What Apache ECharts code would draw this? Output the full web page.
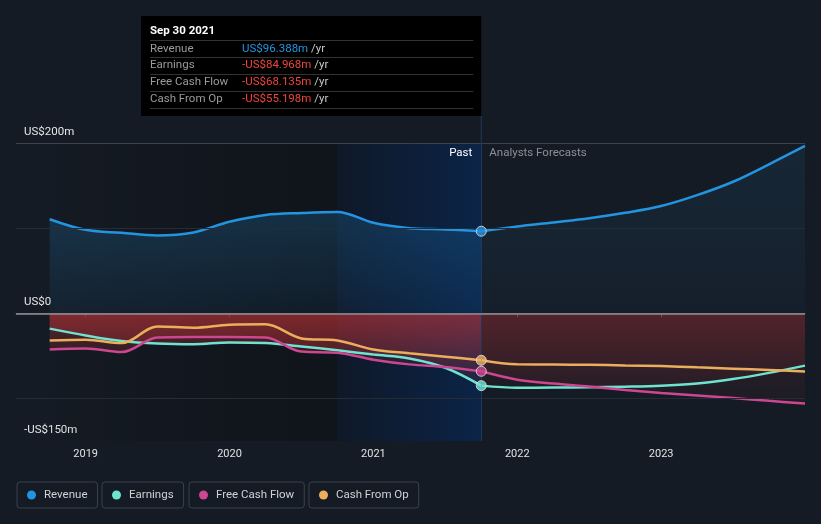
<!DOCTYPE html>
<html><head><meta charset="utf-8">
<script src="https://cdn.jsdelivr.net/npm/echarts@6/dist/echarts.min.js"></script>
<style>html,body{margin:0;padding:0;background:#151b24;}#c{width:821px;height:524px;}</style>
</head><body><div id="c"></div>
<script>
// ---- data ----
const pastYears = [2018.75, 2019.0, 2019.25, 2019.5, 2019.75, 2020.0, 2020.25, 2020.5, 2020.75, 2021.0, 2021.25, 2021.5, 2021.75];
const forecastYears = [2021.75, 2022.0, 2022.25, 2022.5, 2022.75, 2023.0, 2023.25, 2023.5, 2023.75, 2024.0];

const revenuePast = [110.5, 98, 94.5, 91.5, 95, 107.5, 115.5, 117.8, 119, 106.3, 100, 98.5, 96.388];
const earningsPast = [-18, -26, -32.5, -35.5, -36.3, -34.2, -34.8, -39, -43.5, -48.5, -53, -64, -84.968];
const fcfPast = [-42.5, -41.3, -45.5, -28.5, -27.8, -27.8, -28.5, -45, -46.3, -54.5, -60, -63, -68.135];
const cfoPast = [-32, -31, -35, -15.5, -17, -13.5, -13, -29.5, -32, -42.5, -47, -51, -55.198];

const revenueForecast = [96.388, 102, 106.7, 111.6, 118, 126, 138.8, 154.5, 175, 196.5];
const earningsForecast = [-84.968, -87.5, -87.3, -87, -86.2, -85, -82.6, -77.3, -70, -61.5];
const fcfForecast = [-68.135, -78, -82.5, -86, -90, -93.5, -96.5, -99.5, -102.8, -106];
const cfoForecast = [-55.198, -60, -60.2, -60.5, -61.2, -62, -63.5, -65, -66.6, -68.3];

const xTickValues = [2019, 2020, 2021, 2022, 2023];
const yTickValues = [200, 0, -150];
const yTickLabels = ['US$200m', 'US$0', '-US$150m'];
const gridValues = [200, 100, -100];
const seriesNames = ['Revenue', 'Earnings', 'Free Cash Flow', 'Cash From Op'];
const tooltipDate = 'Sep 30 2021';
const pastEnd = 2021.75;
const highlightStart = 2020.75;

// ---- styles ----
const colors = { 'Revenue': '#2394df', 'Earnings': '#6fe3cf', 'Free Cash Flow': '#cc4690', 'Cash From Op': '#ebae5c' };
const FONT = 'Roboto, "Noto Sans", sans-serif';

function pts(yrs, vals) { return yrs.map((x, i) => [x, vals[i]]); }
function vgrad(top, bottom) {
  return { type: 'linear', x: 0, y: 0, x2: 0, y2: 1, colorStops: [{ offset: 0, color: top }, { offset: 1, color: bottom }] };
}
function lineSeries(name, data, opts) {
  const s = {
    name, type: 'line', data, smooth: 0.35, z: opts.z || 3,
    symbol: 'none',
    lineStyle: { color: colors[name], width: 2.5 },
    itemStyle: { color: colors[name] },
    emphasis: { disabled: true },
    silent: true
  };
  if (opts.area) s.areaStyle = { color: opts.area, origin: 0 };
  return s;
}
function markerSeries(name, value) {
  return {
    name, type: 'scatter', data: [[pastEnd, value]], z: 12, symbol: 'circle', symbolSize: 10,
    itemStyle: { color: colors[name], borderColor: '#e6e6e6', borderWidth: 1 },
    emphasis: { disabled: true }, silent: true
  };
}

const chart = echarts.init(document.getElementById('c'), null, { renderer: 'canvas' });

const bgSeries = {
  name: '_bg', type: 'line', data: [[2018.75, 0]], symbol: 'none', lineStyle: { opacity: 0 }, z: 1, silent: true,
  markArea: {
    silent: true,
    data: [
      [{ xAxis: pastYears[0], itemStyle: { color: { type: 'linear', x: 0, y: 0, x2: 1, y2: 0, colorStops: [{ offset: 0, color: 'rgba(0,0,0,0.03)' }, { offset: 1, color: 'rgba(0,0,0,0.25)' }] } } }, { xAxis: highlightStart }],
      [{ xAxis: highlightStart, itemStyle: { color: { type: 'linear', x: 0, y: 0, x2: 1, y2: 0, colorStops: [{ offset: 0, color: '#0f1828' }, { offset: 1, color: '#0b2447' }] } } }, { xAxis: pastEnd }]
    ]
  },
  markLine: {
    silent: true, symbol: 'none', label: { show: false },
    data: gridValues.map(v => ({ yAxis: v, lineStyle: { color: v === 200 ? '#3d424a' : '#262c35', width: 1, type: 'solid' } }))
      .concat([
        { xAxis: pastEnd, lineStyle: { color: '#21375a', width: 1, type: 'solid' } }
      ])
  }
};

const zeroSeries = {
  name: '_zero', type: 'line', data: [[2018.75, 0]], symbol: 'none', lineStyle: { opacity: 0 }, z: 6, silent: true,
  markLine: { silent: true, symbol: 'none', label: { show: false }, data: [{ yAxis: 0, lineStyle: { color: '#8d9197', width: 1.5, type: 'solid' } }] }
};

const series = [
  bgSeries,
  lineSeries('Revenue', pts(forecastYears, revenueForecast), { area: vgrad('rgba(35,148,223,0.14)', 'rgba(35,148,223,0.05)'), z: 3 }),
  lineSeries('Earnings', pts(forecastYears, earningsForecast), { area: vgrad('rgba(200,50,55,0.27)', 'rgba(200,50,55,0.05)'), z: 3 }),
  lineSeries('Free Cash Flow', pts(forecastYears, fcfForecast), { area: vgrad('rgba(200,50,55,0.27)', 'rgba(200,50,55,0.05)'), z: 3 }),
  lineSeries('Cash From Op', pts(forecastYears, cfoForecast), { z: 3 }),
  lineSeries('Revenue', pts(pastYears, revenuePast), { area: vgrad('rgba(35,148,223,0.30)', 'rgba(35,148,223,0.09)'), z: 4 }),
  lineSeries('Earnings', pts(pastYears, earningsPast), { area: vgrad('rgba(215,55,58,0.47)', 'rgba(215,55,58,0.12)'), z: 4 }),
  lineSeries('Free Cash Flow', pts(pastYears, fcfPast), { area: vgrad('rgba(215,55,58,0.47)', 'rgba(215,55,58,0.12)'), z: 4 }),
  lineSeries('Cash From Op', pts(pastYears, cfoPast), { z: 5 }),
  zeroSeries,
  markerSeries('Revenue', revenuePast[revenuePast.length - 1]),
  markerSeries('Earnings', earningsPast[earningsPast.length - 1]),
  markerSeries('Free Cash Flow', fcfPast[fcfPast.length - 1]),
  markerSeries('Cash From Op', cfoPast[cfoPast.length - 1])
];

const legendLefts = [17, 102, 189, 309];
const legends = seriesNames.map((n, i) => ({
  data: [{ name: n, icon: 'circle', itemStyle: { color: colors[n], borderWidth: 0 } }],
  left: legendLefts[i], top: 482,
  orient: 'horizontal',
  icon: 'circle', itemWidth: 9, itemHeight: 9,
  padding: [7, 10, 7, 10],
  borderColor: '#3b4049', borderWidth: 1, borderRadius: 3,
  selectedMode: false,
  textStyle: { color: '#cfd2d6', fontSize: 11.5, fontFamily: FONT, padding: [0, 0, 0, 3] }
}));

function fmt(v) { return (v < 0 ? '-' : '') + 'US$' + Math.abs(v).toFixed(3) + 'm'; }

const tipRows = [
  [seriesNames[0], revenuePast[revenuePast.length - 1]],
  [seriesNames[1], earningsPast[earningsPast.length - 1]],
  [seriesNames[2], fcfPast[fcfPast.length - 1]],
  [seriesNames[3], cfoPast[cfoPast.length - 1]]
];

const option = {
  backgroundColor: '#151b24',
  animation: false,
  textStyle: { fontFamily: FONT },
  grid: { left: 16, right: 16, top: 143, bottom: 83, containLabel: false },
  xAxis: {
    type: 'value', min: 2018.516, max: 2024.0,
    axisLine: { show: true, lineStyle: { color: '#4a4f58', width: 1 } },
    axisTick: { show: true, customValues: xTickValues, length: 4, lineStyle: { color: '#4a4f58' } },
    axisLabel: { customValues: xTickValues, formatter: v => String(v), color: '#dfe1e4', fontSize: 11, margin: 8, fontFamily: FONT },
    splitLine: { show: false }
  },
  yAxis: {
    type: 'value', min: -150, max: 200, interval: 50,
    axisLine: { show: false }, axisTick: { show: false }, splitLine: { show: false },
    axisLabel: {
      inside: true, customValues: yTickValues, margin: 8,
      formatter: v => yTickLabels[yTickValues.indexOf(v)],
      color: '#e4e6e8', fontSize: 11.5, fontFamily: FONT, verticalAlign: 'bottom', padding: [0, 0, 5, 0]
    }
  },
  legend: legends,
  series
};
chart.setOption(option);

// overlay texts / tooltip box positioned from the axes
const divX = chart.convertToPixel({ gridIndex: 0 }, [pastEnd, 0])[0];
const topY = chart.convertToPixel({ gridIndex: 0 }, [pastEnd, 200])[1];
const boxLeft = 141, boxTop = 16, boxBottom = 116;
const g = [];
g.push({ type: 'line', shape: { x1: divX, y1: boxBottom, x2: divX, y2: topY }, style: { stroke: '#21375a', lineWidth: 1 }, z: 2, silent: true });
g.push({ type: 'rect', shape: { x: boxLeft, y: boxTop, width: divX - boxLeft, height: boxBottom - boxTop }, style: { fill: '#000000' }, z: 10, silent: true });
g.push({ type: 'text', x: 150, y: 31, style: { text: tooltipDate, fill: '#ffffff', font: 'bold 11.5px ' + FONT, verticalAlign: 'middle' }, z: 11, silent: true });
const sepYs = [40, 57, 74, 91, 108];
sepYs.forEach(y => g.push({ type: 'line', shape: { x1: 150, y1: y + 0.5, x2: divX - 8, y2: y + 0.5 }, style: { stroke: '#333333', lineWidth: 1 }, z: 11, silent: true }));
tipRows.forEach((r, i) => {
  const cy = 48.8 + i * 16.8;
  g.push({ type: 'text', x: 150, y: cy, style: { text: r[0], fill: '#9a9a9a', font: '11.5px ' + FONT, verticalAlign: 'middle' }, z: 11, silent: true });
  g.push({ type: 'text', x: 242, y: cy, style: {
    text: '{v|' + fmt(r[1]) + '} {u|/yr}', verticalAlign: 'middle', font: '11.5px ' + FONT,
    rich: { v: { fill: r[1] < 0 ? '#f0443f' : '#2394df', font: '11.5px ' + FONT }, u: { fill: '#c8c8c8', font: '11.5px ' + FONT } }
  }, z: 11, silent: true });
});
g.push({ type: 'text', x: divX - 9, y: 153, style: { text: 'Past', fill: '#ffffff', font: '11.5px ' + FONT, align: 'right', verticalAlign: 'middle' }, z: 11, silent: true });
g.push({ type: 'text', x: divX + 8, y: 153, style: { text: 'Analysts Forecasts', fill: '#8b9097', font: '11.5px ' + FONT, align: 'left', verticalAlign: 'middle' }, z: 11, silent: true });
chart.setOption({ graphic: g });
</script>
</body></html>
